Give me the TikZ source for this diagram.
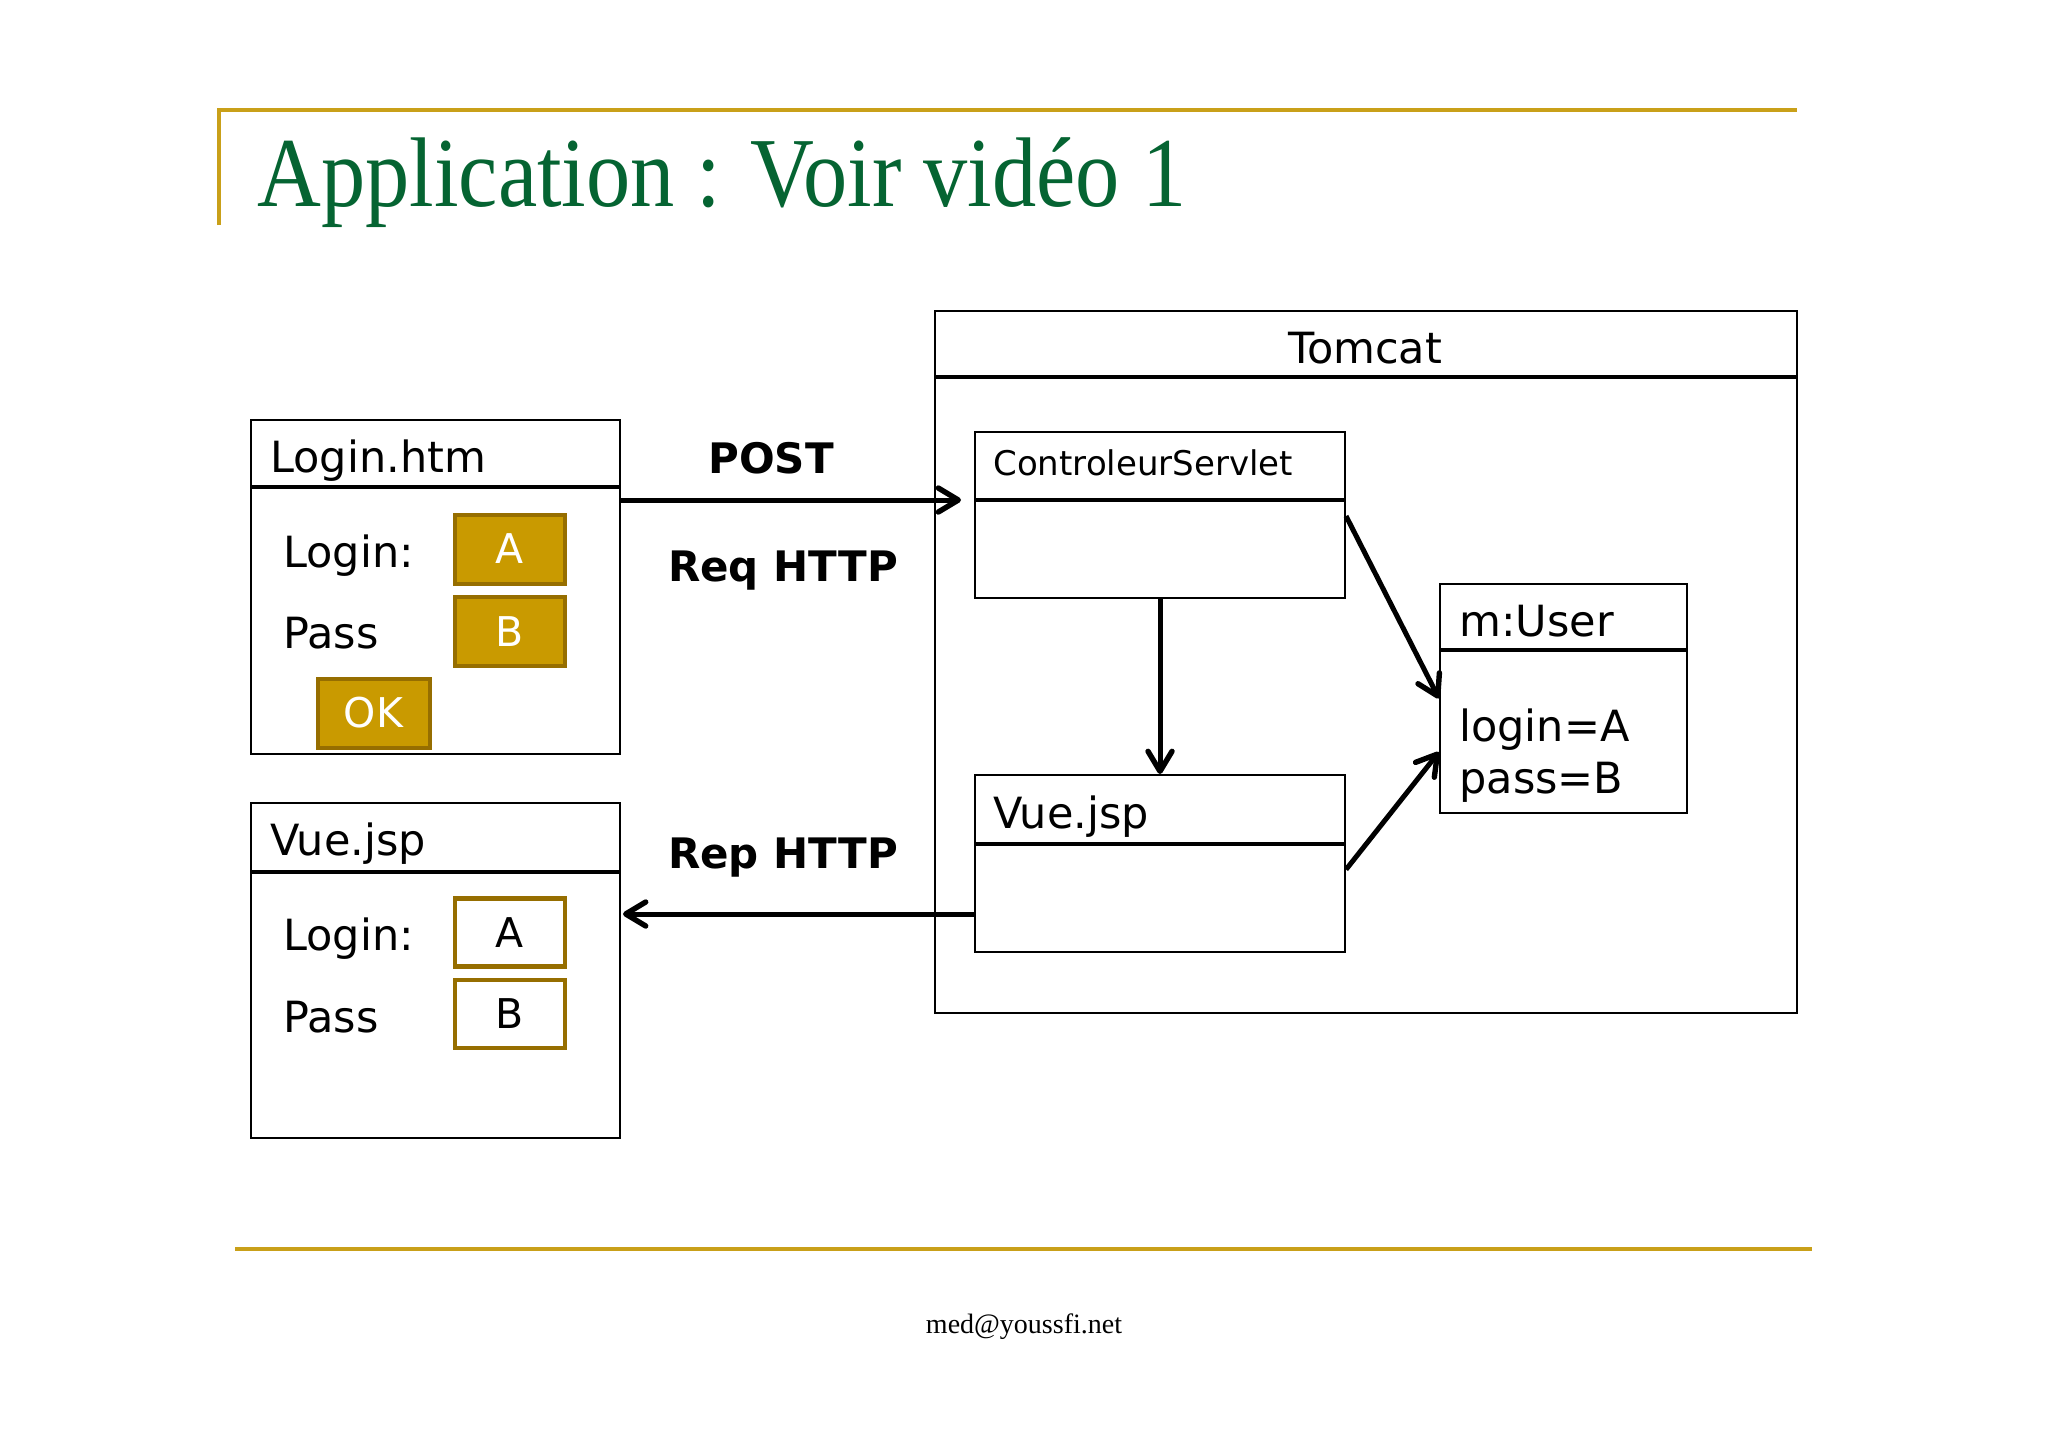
\documentclass[tikz,border=0pt]{standalone}
\usepackage{fontspec}
\setmainfont{DejaVu Sans}
\newfontfamily\titlefont[FakeStretch=0.893]{Liberation Serif}
\newfontfamily\footfont{Liberation Serif}
\usetikzlibrary{arrows.meta,calc}
\definecolor{gold}{RGB}{201,160,25}
\definecolor{goldfill}{RGB}{201,154,0}
\definecolor{goldedge}{RGB}{150,110,0}
\definecolor{titlegreen}{RGB}{5,100,50}
\tikzset{
  box/.style={draw=black, line width=1pt, fill=white, anchor=north west, inner sep=0pt},
  sep/.style={line width=2.2pt},
  arr/.style={line width=2.5pt, -{Straight Barb[length=10pt,width=12pt,line width=2.7pt,round]}},
  mid/.style={font=\fontsize{21.5}{25}\selectfont, inner sep=0pt},
  small/.style={font=\fontsize{17}{20}\selectfont, inner sep=0pt},
  lbl/.style={font=\fontsize{21}{25}\selectfont\bfseries, inner sep=0pt, anchor=base},
  goldbtn/.style={draw=goldedge, line width=2pt, fill=goldfill, text=white, font=\fontsize{20.5}{24}\selectfont, minimum width=55pt, minimum height=34.5pt, inner sep=0pt},
  goldout/.style={draw=goldedge, line width=2.2pt, fill=white, text=black, font=\fontsize{20.5}{24}\selectfont, minimum width=55pt, minimum height=34pt, inner sep=0pt},
}
\begin{document}
\begin{tikzpicture}[x=0.5pt,y=-0.5pt]
\useasboundingbox[fill=white] (0,0) rectangle (2048,1447);
% slide frame
\draw[gold, line width=1.6pt] (219,225) -- (219,110) -- (1797,110);
\draw[gold, line width=1.8pt] (235,1249) -- (1812,1249);
\node[anchor=base west, inner sep=0pt, text=titlegreen, font=\titlefont\fontsize{49.5}{55}\selectfont] (title) at (257,206) {Application : Voir vidéo 1};
\node[anchor=base, inner sep=0pt, font=\footfont\fontsize{14}{16}\selectfont] (foot) at (1024,1333) {med@youssfi.net};

% Login.htm
\node[box, minimum width=184.5pt, minimum height=167pt] (login) at (250,419) {};
\draw[sep] (250,487) -- (619,487);
\node[mid, anchor=base west] (logint) at (270,472) {Login.htm};
\node[mid, anchor=base west] (l1) at (283,567) {Login:};
\node[mid, anchor=base west] (l2) at (283,648) {Pass};
\node[goldbtn] (la) at (510,549) {A};
\node[goldbtn] (lb) at (510,631.5) {B};
\node[goldbtn, minimum width=56pt] (ok) at (373.5,713) {OK};

% Vue.jsp (client)
\node[box, minimum width=184.5pt, minimum height=167.5pt] (vuel) at (250,802) {};
\draw[sep] (250,872) -- (619,872);
\node[mid, anchor=base west] (vuelt) at (270,855) {Vue.jsp};
\node[mid, anchor=base west] (v1) at (283,950) {Login:};
\node[mid, anchor=base west] (v2) at (283,1032) {Pass};
\node[goldout] (va) at (510,932.5) {A};
\node[goldout] (vb) at (510,1014) {B};

% Tomcat
\node[box, minimum width=431pt, minimum height=351pt] (tomcat) at (934,310) {};
\draw[sep] (934,377) -- (1796,377);
\node[mid, anchor=base] (tomcatt) at (1365,363) {Tomcat};

% ControleurServlet
\node[box, minimum width=185pt, minimum height=83pt] (cs) at (974,431) {};
\draw[sep] (974,500) -- (1344,500);
\coordinate (cshl) at (974,500);
\node[small, anchor=base west] (cst) at (993,475) {ControleurServlet};

% Vue.jsp (server)
\node[box, minimum width=185pt, minimum height=88.5pt] (vuein) at (974,774) {};
\draw[sep] (974,844) -- (1344,844);
\node[mid, anchor=base west] (vueint) at (993,828) {Vue.jsp};

% m:User
\node[box, minimum width=123.5pt, minimum height=114.5pt] (user) at (1439,583) {};
\draw[sep] (1439,650) -- (1686,650);
\node[mid, anchor=base west] (usert) at (1459,636) {m:User};
\node[mid, anchor=base west] (u1) at (1459,741) {login=A};
\node[mid, anchor=base west] (u2) at (1459,793) {pass=B};

% arrows
\draw[arr] (login.east |- cshl) -- ($(cshl)+(-13,0)$);
\coordinate (repy) at ($(vuein.south west)+(0,-39)$);
\draw[arr] (repy) -- ($(vuel.east |- repy)+(2,0)$);
\draw[arr] (cs.south) -- (vuein.north);
\draw[arr] ($(cs.north east)+(0,85)$) -- (user.west);
\draw[arr] ($(vuein.east)+(0,6)$) -- ($(user.west)+(0,53.5)$);

% labels
\node[lbl] (post) at (771,473) {POST};
\node[lbl] (req) at (783,581) {Req HTTP};
\node[lbl] (rep) at (783,868) {Rep HTTP};
\end{tikzpicture}
\end{document}
